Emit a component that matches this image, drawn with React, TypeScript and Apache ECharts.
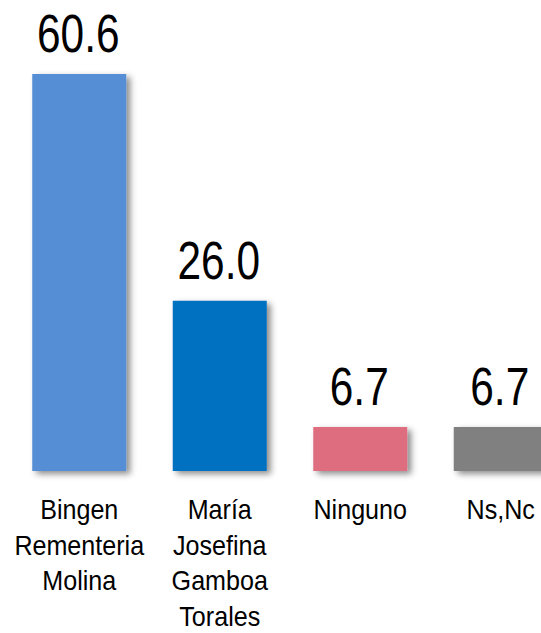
import React, { useEffect, useRef } from "react";
import * as echarts from "echarts";

const categoryLines = [
  ["Bingen", "Rementeria", "Molina"],
  ["María", "Josefina", "Gamboa", "Torales"],
  ["Ninguno"],
  ["Ns,Nc"],
];
const categories = categoryLines.map((l) => l.join(" "));
const values = [60.6, 26.0, 6.7, 6.7];
const colors = ["#558ED5", "#0070C0", "#DF6D80", "#808080"];

const FONT = "'Liberation Sans', Arial, sans-serif";

export default function App() {
  const ref = useRef<HTMLDivElement>(null);
  useEffect(() => {
    const chart = echarts.init(ref.current!, undefined, { renderer: "svg" });
    chart.setOption({
      animation: false,
      backgroundColor: "#ffffff",
      grid: {
        left: 9,
        top: 12.4,
        width: 562,
        bottom: 162,
        containLabel: false,
        outerBoundsMode: "none",
      },
      xAxis: {
        type: "category",
        data: categories,
        axisLine: { show: false },
        axisTick: { show: false },
        axisLabel: { show: false },
      },
      yAxis: {
        type: "value",
        min: 0,
        max: 70,
        show: false,
        splitLine: { show: false },
      },
      series: [
        {
          type: "bar",
          barWidth: 94,
          data: values.map((v, i) => ({
            value: v,
            itemStyle: { color: colors[i] },
          })),
          itemStyle: {
            shadowBlur: 6,
            shadowOffsetX: 4,
            shadowOffsetY: 3,
            shadowColor: "rgba(0,0,0,0.45)",
          },
          label: { show: false },
        },
      ],
    });

    const elements: any[] = [];
    const vFont = 53;
    const cFont = 27;
    values.forEach((v, i) => {
      const top = chart.convertToPixel({ xAxisIndex: 0, yAxisIndex: 0 }, [i, v]) as number[];
      const base = chart.convertToPixel({ xAxisIndex: 0, yAxisIndex: 0 }, [i, 0]) as number[];
      const cx = top[0];
      const valueBaseline = top[1] - 22;
      elements.push({
        type: "text",
        x: cx - 1,
        y: valueBaseline - 0.3465 * vFont,
        scaleX: 0.8,
        style: {
          text: v.toFixed(1),
          fill: "#000",
          fontSize: vFont,
          fontFamily: FONT,
          textAlign: "center",
          textVerticalAlign: "middle",
          align: "center",
          verticalAlign: "middle",
        },
      });
      categoryLines[i].forEach((line, k) => {
        const baseline = base[1] + 48.5 + 35.5 * k;
        elements.push({
          type: "text",
          x: cx,
          y: baseline - 0.3465 * cFont,
          scaleX: 0.93,
          style: {
            text: line,
            fill: "#000",
            fontSize: cFont,
            fontFamily: FONT,
            textAlign: "center",
            textVerticalAlign: "middle",
            align: "center",
            verticalAlign: "middle",
          },
        });
      });
    });
    chart.setOption({ graphic: { elements } });
    return () => chart.dispose();
  }, []);
  return (
    <div
      ref={ref}
      style={{ position: "fixed", left: 0, top: 0, width: 541, height: 633 }}
    />
  );
}
